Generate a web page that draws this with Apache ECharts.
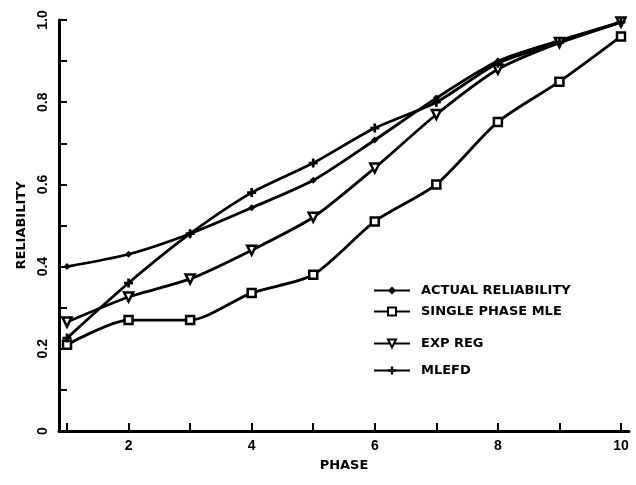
<!DOCTYPE html>
<html>
<head>
<meta charset="utf-8">
<script src="https://cdn.jsdelivr.net/npm/echarts@6/dist/echarts.min.js"></script>
<style>
  html, body { margin: 0; padding: 0; background: #fff; }
  #chart { width: 636px; height: 485px; }
</style>
</head>
<body>
<div id="chart"></div>
<script>
// phases on the x axis
const phases = [1, 2, 3, 4, 5, 6, 7, 8, 9, 10];
const xTickValues = [1, 2, 3, 4, 5, 6, 7, 8, 9, 10];
const xLabelValues = [2, 4, 6, 8, 10];

// reliability values
const actualReliability = [0.40, 0.43, 0.48, 0.543, 0.61, 0.708, 0.81, 0.90, 0.95, 0.995];
const singlePhaseMle = [0.21, 0.27, 0.27, 0.336, 0.38, 0.51, 0.60, 0.752, 0.85, 0.96];
const expReg = [0.265, 0.326, 0.37, 0.44, 0.52, 0.64, 0.77, 0.88, 0.945, 0.995];
const mlefd = [0.226, 0.36, 0.48, 0.58, 0.652, 0.737, 0.80, 0.895, 0.945, 0.995];

const seriesNames = ['ACTUAL RELIABILITY', 'SINGLE PHASE MLE', 'EXP REG', 'MLEFD'];

const downTriangle = 'path://M0,0 L10,0 L5,10 Z';
const plusSign = 'path://M3.5,0 H6.5 V3.5 H10 V6.5 H6.5 V10 H3.5 V6.5 H0 V3.5 H3.5 Z';

function pairs(values) {
    return phases.map(function (p, i) { return [p, values[i]] })
}

const numFont = { color: '#000', fontFamily: 'Liberation Sans', fontWeight: 'bold', fontSize: 14 };
const textFont = { color: '#000', fontFamily: 'DejaVu Sans', fontWeight: 'bold', fontSize: 13 };

function lineSeries(name, values, symbol, size, fill) {
    return {
        name: name,
        type: 'line',
        data: pairs(values),
        smooth: 0.25,
        symbol: symbol,
        symbolSize: size,
        lineStyle: { color: '#000', width: 2.8 },
        itemStyle: { color: fill, borderColor: '#000', borderWidth: fill === '#000' ? 0 : 2.5 },
        emphasis: { disabled: true },
        animation: false
    }
}

function legendAt(name, top) {
    return {
        data: [name],
        left: 373,
        top: top,
        padding: 0,
        itemWidth: 36,
        itemHeight: 10,
        itemGap: 0,
        selectedMode: false,
        textStyle: Object.assign({ padding: [0, 0, 0, 6] }, textFont)
    }
}

const chart = echarts.init(document.getElementById('chart'));

chart.setOption({
    backgroundColor: '#fff',
    animation: false,
    grid: { left: 59, right: 7, top: 20, bottom: 54, containLabel: false },
    legend: [
        legendAt(seriesNames[0], 284),
        legendAt(seriesNames[1], 305),
        legendAt(seriesNames[2], 337),
        legendAt(seriesNames[3], 364)
    ],
    xAxis: {
        type: 'value',
        min: 0.87,
        max: 10.13,
        name: 'PHASE',
        nameLocation: 'middle',
        nameGap: 28,
        nameTextStyle: textFont,
        axisLine: { lineStyle: { color: '#000', width: 3 } },
        axisTick: { inside: true, length: 8, lineStyle: { color: '#000', width: 2 }, customValues: xTickValues },
        axisLabel: Object.assign({ margin: 8, customValues: xLabelValues }, numFont),
        splitLine: { show: false }
    },
    yAxis: {
        type: 'value',
        min: 0,
        max: 1,
        interval: 0.1,
        name: 'RELIABILITY',
        nameLocation: 'middle',
        nameRotate: 90,
        nameGap: 24,
        nameTextStyle: textFont,
        axisLine: { show: true, lineStyle: { color: '#000', width: 3 } },
        axisTick: { show: true, inside: true, length: 8, lineStyle: { color: '#000', width: 2 } },
        axisLabel: Object.assign({
            rotate: 90,
            margin: 9,
            formatter: function (v) {
                const k = Math.round(v * 10);
                if (k % 2 !== 0) return '';
                return k === 0 ? '0' : (k / 10).toFixed(1);
            }
        }, numFont),
        splitLine: { show: false }
    },
    series: [
        lineSeries(seriesNames[0], actualReliability, 'diamond', 7, '#000'),
        lineSeries(seriesNames[1], singlePhaseMle, 'rect', 8, '#fff'),
        lineSeries(seriesNames[2], expReg, downTriangle, 9, '#fff'),
        lineSeries(seriesNames[3], mlefd, plusSign, 9, '#000')
    ]
});
</script>
</body>
</html>
